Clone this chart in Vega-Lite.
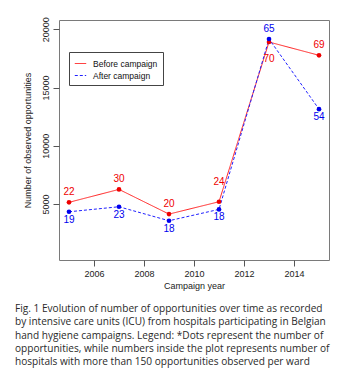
{
  "$schema": "https://vega.github.io/schema/vega-lite/v6.json",
  "width": 270,
  "height": 240,
  "autosize": {"type": "none"},
  "padding": {"left": 59, "top": 20, "right": 17, "bottom": 119},
  "background": "white",
  "config": {
    "view": {"stroke": "#7a7a7a", "strokeWidth": 1},
    "font": "Liberation Sans"
  },
  "title": {
    "text": [
      "Fig. 1 Evolution of number of opportunities over time as recorded",
      "by intensive care units (ICU) from hospitals participating in Belgian",
      "hand hygiene campaigns. Legend: *Dots represent the number of",
      "opportunities, while numbers inside the plot represents number of",
      "hospitals with more than 150 opportunities observed per ward"
    ],
    "orient": "bottom",
    "anchor": "start",
    "frame": "group",
    "dx": -44,
    "offset": 14,
    "font": "Open Sans",
    "fontSize": 10.1,
    "fontWeight": "normal",
    "color": "#2a2a2a",
    "lineHeight": 13.3,
    "baseline": "top"
  },
  "data": {
    "values": [
      {"year": 2005, "series": "Before campaign", "value": 5150, "hospitals": 22, "place": "above"},
      {"year": 2007, "series": "Before campaign", "value": 6260, "hospitals": 30, "place": "above"},
      {"year": 2009, "series": "Before campaign", "value": 4140, "hospitals": 20, "place": "above"},
      {"year": 2011, "series": "Before campaign", "value": 5200, "hospitals": 24, "place": "high above"},
      {"year": 2013, "series": "Before campaign", "value": 18910, "hospitals": 70, "place": "low below"},
      {"year": 2015, "series": "Before campaign", "value": 17770, "hospitals": 69, "place": "above"},
      {"year": 2005, "series": "After campaign", "value": 4340, "hospitals": 19, "place": "below"},
      {"year": 2007, "series": "After campaign", "value": 4770, "hospitals": 23, "place": "below"},
      {"year": 2009, "series": "After campaign", "value": 3570, "hospitals": 18, "place": "below"},
      {"year": 2011, "series": "After campaign", "value": 4545, "hospitals": 18, "place": "below"},
      {"year": 2013, "series": "After campaign", "value": 19170, "hospitals": 65, "place": "above"},
      {"year": 2015, "series": "After campaign", "value": 13150, "hospitals": 54, "place": "below"}
    ]
  },
  "encoding": {
    "x": {
      "field": "year",
      "type": "quantitative",
      "scale": {"domain": [2004.6, 2015.4], "nice": false, "zero": false},
      "axis": {
        "title": "Campaign year",
        "values": [2006, 2008, 2010, 2012, 2014],
        "format": "d",
        "grid": false,
        "domain": false,
        "tickSize": 6,
        "tickColor": "#555555",
        "labelFontSize": 9,
        "labelColor": "#222222",
        "labelPadding": 3,
        "titleFontSize": 9,
        "titleFontWeight": "normal",
        "titleColor": "#222222",
        "titlePadding": 3
      }
    },
    "y": {
      "field": "value",
      "type": "quantitative",
      "scale": {"domain": [200, 20800], "nice": false, "zero": false},
      "axis": {
        "title": "Number of observed opportunities",
        "values": [5000, 10000, 15000, 20000],
        "format": "d",
        "grid": false,
        "domain": false,
        "tickSize": 6,
        "tickColor": "#555555",
        "labelAngle": -90,
        "labelAlign": "center",
        "labelBaseline": "bottom",
        "labelFontSize": 9,
        "labelColor": "#222222",
        "labelPadding": 3,
        "titleFontSize": 9,
        "titleFontWeight": "normal",
        "titleColor": "#222222",
        "titlePadding": 9
      }
    }
  },
  "layer": [
    {
      "mark": {"type": "line", "strokeWidth": 1},
      "encoding": {
        "color": {
          "field": "series",
          "type": "nominal",
          "scale": {"domain": ["Before campaign", "After campaign"], "range": ["#ff2020", "#2020ff"]},
          "legend": {
            "title": null,
            "orient": "none",
            "legendX": 10,
            "legendY": 32,
            "strokeColor": "#444444",
            "fillColor": "white",
            "padding": 5,
            "labelFont": "Liberation Sans",
            "labelFontSize": 8.5,
            "labelColor": "#111111",
            "labelOffset": 6,
            "symbolType": "stroke",
            "symbolSize": 130,
            "symbolStrokeWidth": 1,
            "rowPadding": 1
          }
        },
        "strokeDash": {
          "field": "series",
          "type": "nominal",
          "scale": {"domain": ["Before campaign", "After campaign"], "range": [[1, 0], [3, 2]]},
          "legend": {
            "title": null,
            "orient": "none",
            "legendX": 10,
            "legendY": 32
          }
        }
      }
    },
    {
      "mark": {"type": "point", "filled": true, "size": 22, "opacity": 1},
      "encoding": {
        "fill": {
          "field": "series",
          "type": "nominal",
          "scale": {"domain": ["Before campaign", "After campaign"], "range": ["#ee0000", "#0000ee"]},
          "legend": null
        }
      }
    },
    {
      "transform": [{"filter": "datum.place == 'above'"}],
      "mark": {"type": "text", "fontSize": 10, "baseline": "middle", "dy": -10},
      "encoding": {
        "text": {"field": "hospitals", "type": "quantitative"},
        "fill": {"field": "series", "type": "nominal", "legend": null}
      }
    },
    {
      "transform": [{"filter": "datum.place == 'below'"}],
      "mark": {"type": "text", "fontSize": 10, "baseline": "middle", "dy": 8},
      "encoding": {
        "text": {"field": "hospitals", "type": "quantitative"},
        "fill": {"field": "series", "type": "nominal", "legend": null}
      }
    },
    {
      "transform": [{"filter": "datum.place == 'high above'"}],
      "mark": {"type": "text", "fontSize": 10, "baseline": "middle", "dy": -20},
      "encoding": {
        "text": {"field": "hospitals", "type": "quantitative"},
        "fill": {"field": "series", "type": "nominal", "legend": null}
      }
    },
    {
      "transform": [{"filter": "datum.place == 'low below'"}],
      "mark": {"type": "text", "fontSize": 10, "baseline": "middle", "dy": 17},
      "encoding": {
        "text": {"field": "hospitals", "type": "quantitative"},
        "fill": {"field": "series", "type": "nominal", "legend": null}
      }
    }
  ]
}
